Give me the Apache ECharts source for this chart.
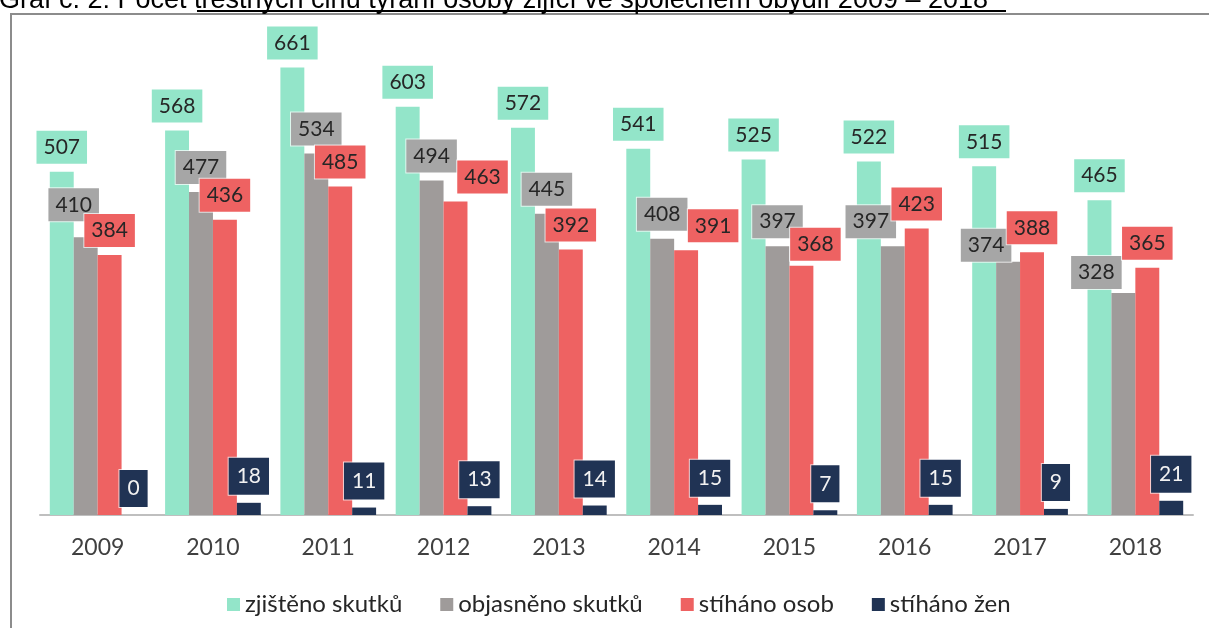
<!DOCTYPE html>
<html>
<head>
    <meta charset="utf-8">
    <title>Graf č. 2</title>
    <script src="https://cdn.jsdelivr.net/npm/echarts@6/dist/echarts.min.js"></script>
    <style>
        html, body { margin:0; padding:0; background:#fff; }
        #chart { width:1209px; height:628px; }
    </style>
</head>
<body>
<div id="chart"></div>
<script>
    var years = ['2009', '2010', '2011', '2012', '2013', '2014', '2015', '2016', '2017', '2018'];
    var zjisteno = [507, 568, 661, 603, 572, 541, 525, 522, 515, 465];
    var objasneno = [410, 477, 534, 494, 445, 408, 397, 397, 374, 328];
    var stihanoOsob = [384, 436, 485, 463, 392, 391, 368, 423, 388, 365];
    var stihanoZen = [0, 18, 11, 13, 14, 15, 7, 15, 9, 21];

    // ruční posuny popisků (jako v originálním grafu z Excelu), index roku -> [dx, dy]
    var grayNudge = { 0: [-12, -8], 7: [-22, 0], 8: [-22, 8], 9: [-27, 4] };
    var redNudge = { 3: [27, 0], 5: [27, 0], 6: [14, 3] };

    function withNudge(values, nudge) {
        return values.map(function (v, i) {
            if (nudge[i]) {
                return { value: v, label: { offset: nudge[i] } };
            }
            return v;
        });
    }

    var chart = echarts.init(document.getElementById('chart'));

    function boxLabel(bg, color, pad) {
        return {
            show: true,
            position: 'top',
            distance: 8,
            fontFamily: 'Lato',
            fontSize: 21,
            lineHeight: 23,
            color: color,
            backgroundColor: bg,
            borderColor: 'rgba(255,255,255,0.7)',
            borderWidth: 1,
            padding: pad
        };
    }

    var option = {
        backgroundColor: '#fff',
        animation: false,
        grid: {
            left: 40,
            right: 16,
            top: 41,
            bottom: 113,
            containLabel: false
        },
        legend: {
            top: 586,
            left: 222,
            itemGap: 38,
            itemWidth: 13,
            itemHeight: 13,
            itemStyle: { borderWidth: 0 },
            icon: 'rect',
            textStyle: { fontFamily: 'Lato', fontSize: 24, lineHeight: 27, color: '#262626' },
            data: ['zjištěno skutků', 'objasněno skutků', 'stíháno osob', 'stíháno žen']
        },
        xAxis: {
            type: 'category',
            data: years,
            axisLine: { lineStyle: { color: '#bfbfbf', width: 2 } },
            axisTick: { show: false },
            axisLabel: { fontFamily: 'Lato', fontSize: 23, color: '#404040', margin: 21 }
        },
        yAxis: {
            type: 'value',
            min: 0,
            max: 700,
            show: false,
            splitLine: { show: false }
        },
        series: [
            {
                name: 'zjištěno skutků',
                type: 'bar',
                barGap: '0%',
                barCategoryGap: '17%',
                itemStyle: { color: '#93e5c9' },
                label: boxLabel('#93e5c9', '#262626', [5, 7]),
                data: zjisteno
            },
            {
                name: 'objasněno skutků',
                type: 'bar',
                itemStyle: { color: '#9f9b9a' },
                label: boxLabel('#a6a6a6', '#262626', [5, 7]),
                data: withNudge(objasneno, grayNudge)
            },
            {
                name: 'stíháno osob',
                type: 'bar',
                itemStyle: { color: '#ee6262' },
                label: boxLabel('#ee6262', '#262626', [5, 7]),
                data: withNudge(stihanoOsob, redNudge)
            },
            {
                name: 'stíháno žen',
                type: 'bar',
                itemStyle: { color: '#203354' },
                label: boxLabel('#203354', '#f2f2f2', [7, 8]),
                data: stihanoZen
            }
        ],
        graphic: [
            {
                type: 'rect',
                silent: true,
                shape: { x: 11, y: 14, width: 1230, height: 640 },
                style: { fill: 'none', stroke: '#8c8c8c', lineWidth: 2 }
            },
            {
                type: 'text',
                silent: true,
                left: -1,
                top: -13,
                style: {
                    text: 'Graf č. 2: Počet trestných činů týrání osoby žijící ve společném obydlí 2009 – 2018',
                    font: '27px "Liberation Sans Narrow", "Arial Narrow", "Liberation Sans", sans-serif',
                    fill: '#000'
                }
            },
            {
                type: 'line',
                silent: true,
                shape: { x1: 197, y1: 11, x2: 1006, y2: 11 },
                style: { stroke: '#000', lineWidth: 2 }
            }
        ]
    };

    chart.setOption(option);
    window.onresize = function () {
        chart.resize();
    };
</script>
</body>
</html>
